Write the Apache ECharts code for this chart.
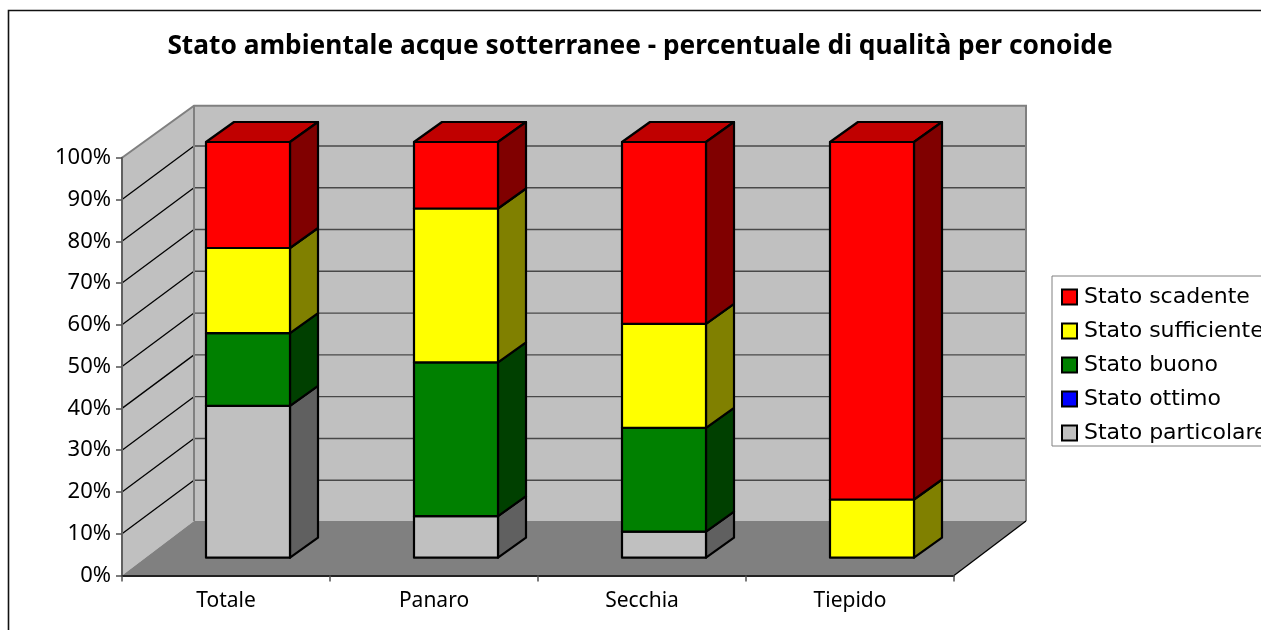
<!DOCTYPE html>
<html>
<head>
<meta charset="utf-8">
<style>html,body{margin:0;padding:0;background:#fff;overflow:hidden}#c{width:1261px;height:630px}</style>
<script src="https://cdn.jsdelivr.net/npm/echarts@6/dist/echarts.min.js"></script>
</head>
<body>
<div id="c"></div>
<script>
const titleText = 'Stato ambientale acque sotterranee - percentuale di qualità per conoide';
const categories = ['Totale', 'Panaro', 'Secchia', 'Tiepido'];
const gridTicks = [10, 20, 30, 40, 50, 60, 70, 80, 90];
const particolare = [36.5, 10, 6.25, 0];
const ottimo = [0, 0, 0, 0];
const buono = [17.5, 37, 25, 0];
const sufficiente = [20.5, 37, 25, 14];
const scadente = [25.5, 16, 43.75, 86];

const names = ['Stato particolare', 'Stato ottimo', 'Stato buono', 'Stato sufficiente', 'Stato scadente'];
const values = [particolare, ottimo, buono, sufficiente, scadente];
const fronts = ['#c0c0c0', '#0000ff', '#008000', '#ffff00', '#ff0000'];
const sides = ['#606060', '#000080', '#004000', '#808000', '#800000'];
const tops = ['#909090', '#0000c0', '#006000', '#c0c000', '#c00000'];
const legendOrder = names.slice().reverse();

const WALL_DX = 72, WALL_DY = -53.5, BAR_W = 84, BAR_DX = 28, BAR_DY = -20;
const FONT = '"DejaVu Sans", sans-serif';
const AXIS_FONT = '"Noto Sans", sans-serif';

function wallItem(params, api) {
  const cs = params.coordSys;
  const l = cs.x, r = cs.x + cs.width, t = cs.y, b = cs.y + cs.height;
  const bl = l + WALL_DX, br = r + WALL_DX, bt = t + WALL_DY + 1.5, bb = b + WALL_DY - 1;
  const edge = { stroke: '#808080', lineWidth: 2, fill: null };
  const children = [
    { type: 'polygon', shape: { points: [[bl, bt], [br, bt], [br, bb], [bl, bb]] }, style: { fill: '#c0c0c0' } },
    { type: 'polygon', shape: { points: [[l, t], [bl, bt], [bl, bb], [l, b]] }, style: { fill: '#c0c0c0' } },
    { type: 'polygon', shape: { points: [[l, b], [r, b], [br, bb], [bl, bb]] }, style: { fill: '#808080' } }
  ];
  gridTicks.forEach(v => {
    const y = api.coord([0, v])[1];
    children.push({ type: 'line', shape: { x1: l, y1: y, x2: bl, y2: y + WALL_DY }, style: { stroke: '#000', lineWidth: 1.3 } });
    children.push({ type: 'line', shape: { x1: bl, y1: y + WALL_DY, x2: br, y2: y + WALL_DY }, style: { stroke: '#484848', lineWidth: 1.4 } });
  });
  children.push({ type: 'polyline', shape: { points: [[l, t], [bl, bt], [br, bt], [br, bb]] }, style: edge });
  children.push({ type: 'line', shape: { x1: bl, y1: bt, x2: bl, y2: bb }, style: { stroke: '#808080', lineWidth: 2 } });
  children.push({ type: 'line', shape: { x1: r, y1: b, x2: br, y2: bb }, style: { stroke: '#000', lineWidth: 1.3 } });
  return { type: 'group', children };
}

function barItem(s) {
  return function (params, api) {
    const i = api.value(0), lo = api.value(1), hi = api.value(2);
    if (hi <= lo) return null;
    const cx = api.coord([i, 0])[0];
    const x1 = cx - BAR_W / 2, x2 = cx + BAR_W / 2;
    const y0 = api.coord([i, lo])[1], y1 = api.coord([i, hi])[1];
    const line = { stroke: '#000', lineWidth: 2.2, lineJoin: 'round' };
    return {
      type: 'group',
      children: [
        { type: 'polygon', shape: { points: [[x1, y1], [x2, y1], [x2 + BAR_DX, y1 + BAR_DY], [x1 + BAR_DX, y1 + BAR_DY]] }, style: Object.assign({ fill: tops[s] }, line) },
        { type: 'polygon', shape: { points: [[x2, y0], [x2 + BAR_DX, y0 + BAR_DY], [x2 + BAR_DX, y1 + BAR_DY], [x2, y1]] }, style: Object.assign({ fill: sides[s] }, line) },
        { type: 'rect', shape: { x: x1, y: y1, width: BAR_W, height: y0 - y1 }, style: Object.assign({ fill: fronts[s] }, line) }
      ]
    };
  };
}

const barSeries = names.map((name, s) => ({
  name,
  type: 'custom',
  xAxisIndex: 1,
  yAxisIndex: 1,
  z: 10,
  itemStyle: { color: fronts[s] },
  renderItem: barItem(s),
  encode: { x: 0, y: [1, 2] },
  data: categories.map((c, i) => {
    let base = 0;
    for (let k = 0; k < s; k++) base += values[k][i];
    return [i, base, base + values[s][i]];
  })
}));

const chart = echarts.init(document.getElementById('c'), null, { renderer: 'canvas' });
chart.setOption({
  animation: false,
  backgroundColor: '#fff',
  title: {
    text: titleText, left: 635, top: 29, textAlign: 'center',
    textStyle: { fontFamily: AXIS_FONT, fontWeight: 'bold', fontSize: 26.3, color: '#000' }
  },
  graphic: [
    { type: 'polyline', z: 100, shape: { points: [[8.5, 632], [8.5, 10.5], [1263, 10.5]] }, style: { stroke: '#111', lineWidth: 1.6, fill: null } }
  ],
  legend: {
    orient: 'vertical', left: 1052, top: 276, padding: [10, 40, 2, 9],
    data: legendOrder, icon: 'rect', itemWidth: 15, itemHeight: 15, itemGap: 12,
    backgroundColor: '#fff', borderColor: '#808080', borderWidth: 1,
    itemStyle: { borderColor: '#000', borderWidth: 2 },
    selectedMode: false,
    textStyle: { fontFamily: FONT, fontSize: 22, color: '#000', padding: [0, 0, 0, 2], lineHeight: 22 }
  },
  grid: [
    { left: 122, top: 157.7, width: 832, height: 417.8 },
    { left: 144, top: 142, width: 832, height: 415.7 }
  ],
  xAxis: [
    {
      type: 'category', data: categories, gridIndex: 0, z: 5,
      axisLine: { lineStyle: { color: '#222', width: 2 } },
      axisTick: { show: true, inside: false, length: 6, lineStyle: { color: '#505050', width: 1.5 } },
      axisLabel: { fontFamily: AXIS_FONT, fontSize: 21, color: '#000', margin: 15 }
    },
    { type: 'category', data: categories, gridIndex: 1, show: false }
  ],
  yAxis: [
    {
      type: 'value', min: 0, max: 100, interval: 10, gridIndex: 0, z: 5,
      axisLine: { show: true, lineStyle: { color: '#606060', width: 2 } },
      axisTick: { show: true, inside: false, length: 6, lineStyle: { color: '#505050', width: 1.5 } },
      splitLine: { show: false },
      axisLabel: { fontFamily: AXIS_FONT, fontSize: 22, color: '#000', margin: 11, padding: [3, 0, 0, 0], formatter: '{value}%' }
    },
    { type: 'value', min: 0, max: 100, gridIndex: 1, show: false, splitLine: { show: false } }
  ],
  series: [
    { type: 'custom', xAxisIndex: 0, yAxisIndex: 0, z: 1, silent: true, renderItem: wallItem, data: [[0, 0]] }
  ].concat(barSeries)
});
</script>
</body>
</html>
